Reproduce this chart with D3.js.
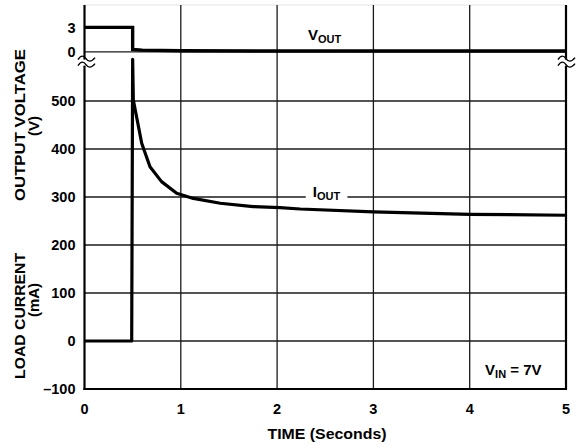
<!DOCTYPE html>
<html>
<head>
<meta charset="utf-8">
<script src="https://cdn.jsdelivr.net/npm/d3@7"></script>
<style>
html,body{margin:0;padding:0;background:#fff;}
svg{display:block;}
text{font-family:"Liberation Sans",Arial,Helvetica,sans-serif;font-weight:bold;fill:#000;}
</style>
</head>
<body>
<svg id="chart" width="577" height="446"></svg>
<script>
// ---- data ----
const timeTicks = [0, 1, 2, 3, 4, 5];
const currentTicks = [-100, 0, 100, 200, 300, 400, 500];
const voltageTicks = [0, 3];

const iTime = [0, 0.49, 0.50, 0.507, 0.594, 0.68, 0.80, 0.957, 1.13, 1.41, 1.75, 2.03, 2.24, 3.0, 4.0, 5.0];
const iOut  = [0, 0, 587, 502, 412, 363, 332, 308, 297, 287, 280, 278, 275, 269, 264, 262];

const vTime = [0, 0.5, 0.5, 0.6, 1.0, 2.0, 5.0];
const vOut  = [3, 3, 0.28, 0.2, 0.12, 0.1, 0.1];

// ---- layout ----
const svg = d3.select("#chart");
const pL = 84.5, pR = 566, pT = 5, pB = 389;

const x = d3.scaleLinear().domain([0, 5]).range([pL, pR]);
const yI = d3.scaleLinear().domain([-100, 600]).range([pB, pB - 700 * 0.48]);
const yV = d3.scaleLinear().domain([0, 3]).range([51.8, 27.4]);

// faint top border
svg.append("line").attr("x1", pL).attr("x2", pR).attr("y1", pT).attr("y2", pT)
  .attr("stroke", "#e4e4e4").attr("stroke-width", 1.2);

const grid = svg.append("g").attr("stroke", "#1a1a1a").attr("stroke-width", 1.3);
// vertical grid
grid.selectAll("line.v").data(timeTicks.filter(t => t > 0 && t < 5)).join("line")
  .attr("class", "v")
  .attr("x1", d => x(d)).attr("x2", d => x(d)).attr("y1", pT).attr("y2", pB);
// horizontal grid (current)
grid.selectAll("line.h").data(currentTicks.filter(v => v > -100)).join("line")
  .attr("class", "h")
  .attr("x1", pL).attr("x2", pR).attr("y1", d => yI(d)).attr("y2", d => yI(d));
// horizontal grid at 0 V
grid.append("line").attr("x1", pL).attr("x2", pR).attr("y1", yV(0)).attr("y2", yV(0));

// axes frame
const frame = svg.append("g").attr("stroke", "#000").attr("stroke-width", 2.2);
frame.append("line").attr("x1", pL).attr("x2", pL).attr("y1", pT).attr("y2", pB + 1);
frame.append("line").attr("x1", pR).attr("x2", pR).attr("y1", pT).attr("y2", pB + 1);
frame.append("line").attr("x1", pL - 1).attr("x2", pR + 1).attr("y1", pB).attr("y2", pB);

// break symbols
const breakY = yI(580);
function drawBreak(cx) {
  const g = svg.append("g").attr("transform", `translate(${cx},${breakY})`);
  g.append("rect").attr("x", -3).attr("y", -3).attr("width", 6).attr("height", 6).attr("fill", "#fff");
  const wave = "M-8,0 C-5,-5 -2,-4 0,-1 C2,2 5,3 9,-2";
  g.append("path").attr("d", wave).attr("transform", "translate(0,-3)")
    .attr("fill", "none").attr("stroke", "#000").attr("stroke-width", 1.4);
  g.append("path").attr("d", wave).attr("transform", "translate(0,3)")
    .attr("fill", "none").attr("stroke", "#000").attr("stroke-width", 1.4);
}
drawBreak(pL + 1.5);
drawBreak(pR);

// ---- data lines ----
const lineI = d3.line().x(d => x(d[0])).y(d => yI(d[1]));
const lineV = d3.line().x(d => x(d[0])).y(d => yV(d[1]));

svg.append("path").datum(vTime.map((t, i) => [t, vOut[i]]))
  .attr("d", lineV).attr("fill", "none").attr("stroke", "#000")
  .attr("stroke-width", 3.4).attr("stroke-linejoin", "miter");

svg.append("path").datum(iTime.map((t, i) => [t, iOut[i]]))
  .attr("d", lineI).attr("fill", "none").attr("stroke", "#000")
  .attr("stroke-width", 3.2).attr("stroke-linejoin", "round");

// ---- tick labels ----
const tickFont = 14.5;
svg.append("g").selectAll("text").data(timeTicks).join("text")
  .attr("x", d => x(d)).attr("y", 413.5).attr("text-anchor", "middle")
  .attr("font-size", tickFont).text(d => d);

svg.append("g").selectAll("text").data(currentTicks).join("text")
  .attr("x", 75.5).attr("y", d => yI(d)).attr("dy", "0.36em").attr("text-anchor", "end")
  .attr("font-size", tickFont).text(d => d < 0 ? "\u2013" + Math.abs(d) : d);

svg.append("g").selectAll("text").data(voltageTicks).join("text")
  .attr("x", 75.5).attr("y", d => yV(d)).attr("dy", "0.36em").attr("text-anchor", "end")
  .attr("font-size", tickFont).text(d => d);

// ---- axis titles ----
svg.append("text").attr("x", 327).attr("y", 438.5).attr("text-anchor", "middle")
  .attr("font-size", 15).attr("textLength", 119).attr("lengthAdjust", "spacingAndGlyphs")
  .text("TIME (Seconds)");

function vtitle(txt, cx, cy, len) {
  const t = svg.append("text").attr("transform", `translate(${cx},${cy}) rotate(-90)`)
    .attr("text-anchor", "middle").attr("font-size", 15).text(txt);
  if (len) t.attr("textLength", len).attr("lengthAdjust", "spacingAndGlyphs");
}
vtitle("OUTPUT VOLTAGE", 25, 125, 152);
vtitle("(V)", 38.5, 126);
vtitle("LOAD CURRENT", 25, 316, 126);
vtitle("(mA)", 38.5, 300);

// ---- annotations ----
function subLabel(main, sub, tx, ty, extra, bg) {
  const g = svg.append("g");
  const t = g.append("text").attr("x", tx).attr("y", ty).attr("font-size", 15);
  t.append("tspan").text(main);
  t.append("tspan").attr("font-size", 11).attr("dy", 3).text(sub);
  if (extra) t.append("tspan").attr("dy", -3).text(extra);
  if (bg) {
    const b = t.node().getBBox();
    g.insert("rect", "text").attr("x", b.x - 7).attr("y", b.y)
      .attr("width", b.width + 14).attr("height", b.height).attr("fill", "#fff");
  }
}
subLabel("V", "OUT", x(2.32), yV(1.45), null, false);
subLabel("I", "OUT", x(2.37), yI(300), null, true);
subLabel("V", "IN", x(4.16), yI(-71), " = 7V", false);
</script>
</body>
</html>
